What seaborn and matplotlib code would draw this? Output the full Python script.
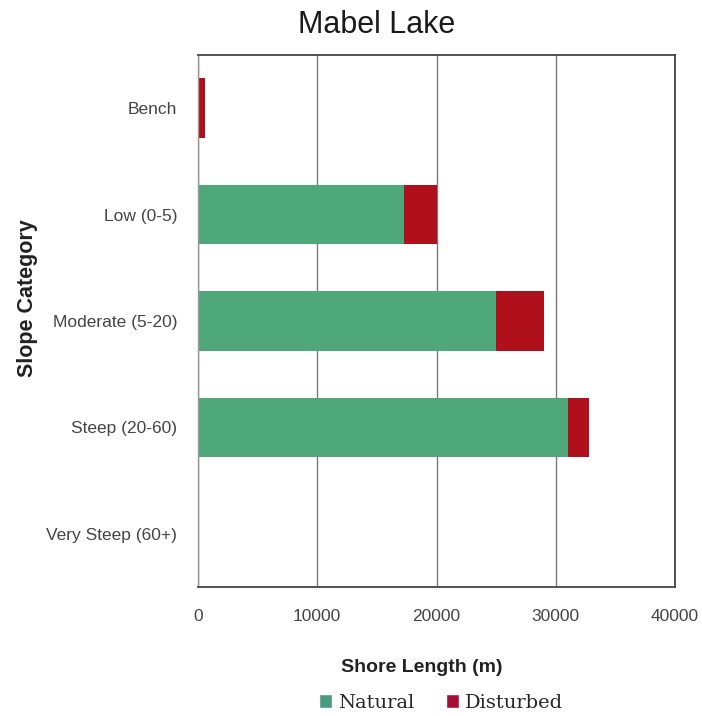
import matplotlib
matplotlib.use("Agg")
import matplotlib.pyplot as plt
from matplotlib.patches import Patch
import seaborn as sns
import pandas as pd

categories = ["Bench", "Low (0-5)", "Moderate (5-20)", "Steep (20-60)", "Very Steep (60+)"]
natural = [100, 17300, 25000, 31000, 0]
disturbed = [500, 2700, 4050, 1800, 0]
x_ticks = [0, 10000, 20000, 30000, 40000]

df = pd.DataFrame({"category": categories, "natural": natural, "disturbed": disturbed})
df["total"] = df["natural"] + df["disturbed"]

green = "#4ea87a"
red = "#b0101c"

sns.set_style("white")
plt.rcParams["font.family"] = ["Liberation Sans", "DejaVu Sans"]

fig = plt.figure(figsize=(7.02, 7.16), dpi=100)
ax = fig.add_axes([198 / 702, 1 - 587 / 716, (675 - 198) / 702, (587 - 55) / 716])

# stacked horizontal bars: total in red, natural drawn over it in green
sns.barplot(data=df, y="category", x="total", orient="h", color=red,
            saturation=1, width=0.56, ax=ax, order=categories, linewidth=0)
sns.barplot(data=df, y="category", x="natural", orient="h", color=green,
            saturation=1, width=0.56, ax=ax, order=categories, linewidth=0)

ax.set_xlim(0, 40000)
ax.set_xticks(x_ticks)
ax.set_xticklabels([str(t) for t in x_ticks], color="#444444", fontsize=12.5)
ax.tick_params(axis="x", direction="out", length=5, color="#555555", pad=11)
ax.tick_params(axis="y", length=0, pad=15, labelsize=12.5, labelcolor="#444444")
ax.set_axisbelow(True)
ax.xaxis.grid(True, color="#7a7a7a", linewidth=1)

for side in ["top", "right", "bottom"]:
    ax.spines[side].set_color("#444444")
    ax.spines[side].set_linewidth(1.3)
ax.spines["left"].set_color("#999999")
ax.spines["left"].set_linewidth(1)

ax.set_xlabel("")
ax.set_ylabel("")
fig.text(422 / 702, 1 - 668 / 716, "Shore Length (m)", ha="center", va="center",
         fontsize=14, fontweight="bold", color="#222222")
fig.text(28 / 702, 1 - 298 / 716, "Slope Category", ha="center", va="center",
         rotation=90, fontsize=15.5, fontweight="bold", color="#222222")
fig.text(377 / 702, 1 - 25 / 716, "Mabel Lake", ha="center", va="center",
         fontsize=22, family=["Liberation Sans Narrow", "Liberation Sans", "DejaVu Sans"],
         color="#1a1a1a")

handles = [Patch(facecolor="#4a9a7e", label="Natural"), Patch(facecolor="#a51035", label="Disturbed")]
fig.legend(handles=handles, loc="center", bbox_to_anchor=(441 / 702, 1 - 703 / 716), ncol=2,
           frameon=False, handlelength=0.7, handleheight=0.7, handletextpad=0.3,
           columnspacing=1.6, prop={"family": ["DejaVu Serif"], "size": 14})

fig.savefig("out.png", dpi=100)
